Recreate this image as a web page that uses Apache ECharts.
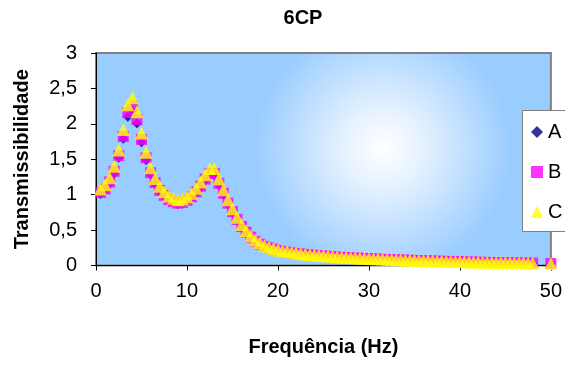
<!DOCTYPE html>
<html>
<head>
<meta charset="utf-8">
<script src="https://cdn.jsdelivr.net/npm/echarts@6/dist/echarts.min.js"></script>
<style>html,body{margin:0;padding:0;background:#fff;}#c{width:565px;height:365px;}</style>
</head>
<body>
<div id="c"></div>
<script>
// Frequency (Hz)
var freq = [0.5,1,1.5,2,2.5,3,3.5,4,4.5,5,5.5,6,6.5,7,7.5,8,8.5,9,9.5,10,10.5,11,11.5,12,12.5,13,13.5,14,14.5,15,15.5,16,16.5,17,17.5,18,
  18.5,19,19.5,20,20.5,21,21.5,22,22.5,23,23.5,24,24.5,25,25.5,26,26.5,27,27.5,28,28.5,29,29.5,30,
  30.5,31,31.5,32,32.5,33,33.5,34,34.5,35,35.5,36,36.5,37,37.5,38,38.5,39,39.5,40,40.5,41,41.5,42,42.5,43,43.5,44,44.5,45,45.5,46,46.5,47,47.5,48,50];

var seriesA = [1.01,1.06,1.15,1.30,1.52,1.79,2.10,2.19,2.01,1.74,1.49,1.29,1.15,1.04,0.97,0.92,0.89,0.87,0.88,0.91,0.95,1.02,1.10,1.20,1.28,1.28,1.14,1.00,0.87,0.75,0.64,0.54,0.46,0.39,0.34,0.30,
  0.265,0.245,0.225,0.21,0.198,0.188,0.178,0.168,0.162,0.152,0.147,0.142,0.137,0.132,0.127,0.122,0.118,0.114,0.111,0.107,0.104,0.101,0.098,0.095,
  0.093,0.090,0.087,0.084,0.082,0.079,0.077,0.075,0.073,0.071,0.069,0.067,0.065,0.063,0.061,0.059,0.057,0.055,0.054,0.052,0.050,0.049,0.047,0.046,0.044,0.043,0.042,0.040,0.039,0.038,0.037,0.036,0.035,0.034,0.033,0.032,0.027];

var seriesB = [1.03,1.08,1.18,1.33,1.55,1.82,2.16,2.25,2.06,1.78,1.52,1.31,1.17,1.06,0.99,0.93,0.90,0.88,0.89,0.92,0.97,1.04,1.12,1.22,1.30,1.30,1.16,1.02,0.88,0.76,0.65,0.55,0.47,0.40,0.34,0.30,
  0.27,0.25,0.23,0.21,0.20,0.19,0.18,0.17,0.165,0.155,0.15,0.145,0.14,0.135,0.13,0.125,0.12,0.116,0.113,0.109,0.106,0.103,0.10,0.097,
  0.094,0.091,0.088,0.085,0.083,0.080,0.078,0.076,0.074,0.072,0.070,0.068,0.066,0.064,0.062,0.060,0.058,0.056,0.055,0.053,0.051,0.050,0.048,0.047,0.045,0.044,0.043,0.041,0.040,0.039,0.038,0.037,0.036,0.035,0.034,0.033,0.028];

var seriesC = [1.08,1.14,1.24,1.40,1.63,1.92,2.27,2.37,2.17,1.87,1.60,1.38,1.23,1.12,1.04,0.98,0.95,0.93,0.94,0.97,1.02,1.09,1.18,1.28,1.37,1.37,1.22,1.07,0.93,0.80,0.68,0.58,0.49,0.42,0.36,0.32,
  0.28,0.26,0.24,0.22,0.21,0.20,0.19,0.18,0.17,0.16,0.155,0.15,0.145,0.14,0.135,0.13,0.125,0.12,0.117,0.113,0.11,0.107,0.104,0.10,
  0.097,0.094,0.091,0.088,0.086,0.083,0.081,0.079,0.077,0.075,0.073,0.071,0.069,0.067,0.065,0.063,0.061,0.059,0.058,0.056,0.054,0.053,0.051,0.050,0.048,0.047,0.046,0.044,0.043,0.042,0.041,0.040,0.039,0.038,0.037,0.036,0.030];

var seriesNames = ['A','B','C'];
var chartTitle = '6CP';
var xTitle = 'Frequência (Hz)';
var yTitle = 'Transmissibilidade';

function pairs(ys){ return freq.map(function(f,i){ return [f, ys[i]]; }); }

var FONT = '"Liberation Sans", Arial, sans-serif';
var chart = echarts.init(document.getElementById('c'), null, {renderer:'canvas'});
chart.setOption({
  animation: false,
  backgroundColor: '#ffffff',
  graphic: [{
    type: 'text', x: 303, y: 18, z: 5,
    style: { text: chartTitle, font: 'bold 20px ' + FONT, fill: '#000', textAlign: 'center', textVerticalAlign: 'middle' }
  }, {
    type: 'rect', z: 5,
    shape: { x: 522.5, y: 110.5, width: 60, height: 121 },
    style: { fill: '#ffffff', stroke: '#808080', lineWidth: 1 }
  }],
  grid: {
    left: 96, right: 14, top: 53, bottom: 99.5,
    show: true,
    borderColor: '#808080', borderWidth: 2,
    backgroundColor: new echarts.graphic.RadialGradient(0.63, 0.45, 0.6, [
      {offset: 0, color: '#ffffff'},
      {offset: 0.3, color: '#e6f2ff'},
      {offset: 1, color: '#99ccff'}
    ])
  },
  legend: {
    orient: 'vertical', left: 522, top: 110, z: 6,
    padding: [12, 4, 9, 9],
    backgroundColor: 'transparent', borderWidth: 0,
    itemWidth: 12, itemHeight: 12, itemGap: 20,
    textStyle: { fontFamily: FONT, fontSize: 20, color: '#000', lineHeight: 20 },
    data: [{name:'A', icon:'diamond'}, {name:'B', icon:'rect'}, {name:'C', icon:'triangle'}]
  },
  xAxis: {
    type: 'value', min: 0, max: 50, interval: 10,
    name: xTitle, nameLocation: 'middle', nameGap: 72,
    nameTextStyle: { fontFamily: FONT, fontSize: 20, fontWeight: 'bold', color: '#000' },
    axisLine: { show: true, onZero: false, lineStyle: { color: '#000', width: 1 } },
    axisTick: { show: true, inside: false, length: 5, lineStyle: { color: '#000' } },
    axisLabel: { fontFamily: FONT, fontSize: 20, color: '#000', margin: 16 },
    splitLine: { show: false }
  },
  yAxis: {
    type: 'value', min: 0, max: 3, interval: 0.5,
    name: yTitle, nameLocation: 'middle', nameGap: 64,
    nameTextStyle: { fontFamily: FONT, fontSize: 20, fontWeight: 'bold', color: '#000' },
    axisLine: { show: true, lineStyle: { color: '#000', width: 1 } },
    axisTick: { show: true, inside: false, length: 5, lineStyle: { color: '#000' } },
    axisLabel: { fontFamily: FONT, fontSize: 20, color: '#000', margin: 19,
      formatter: function(v){ return String(v).replace('.', ','); } },
    splitLine: { show: false }
  },
  series: [
    { name: 'A', type: 'scatter', symbol: 'diamond', symbolSize: 10, clip: false,
      itemStyle: { color: '#000080' }, data: pairs(seriesA) },
    { name: 'B', type: 'scatter', symbol: 'rect', symbolSize: 11, clip: false,
      itemStyle: { color: '#ff00ff' }, data: pairs(seriesB) },
    { name: 'C', type: 'scatter', symbol: 'triangle', symbolSize: 13, clip: false,
      itemStyle: { color: '#ffff00' }, data: pairs(seriesC) }
  ]
});
</script>
</body>
</html>
